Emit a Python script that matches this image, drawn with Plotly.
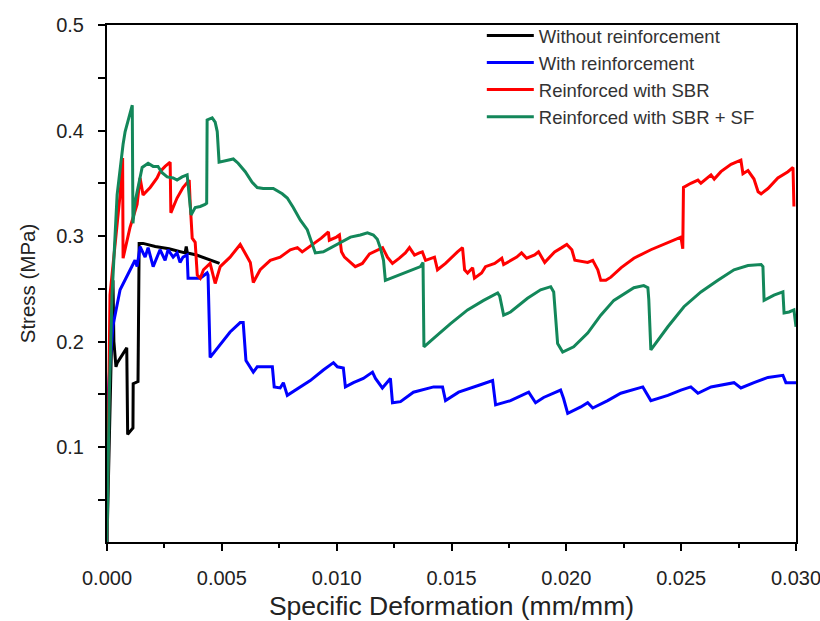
import plotly.graph_objects as go

# ---------------- data (strain in mm/mm, stress in MPa) ----------------
black_x = [0, 0.0001, 0.00022, 0.00026, 0.0003, 0.00039, 0.00045, 0.00086, 0.00087, 0.0009, 0.00113,
           0.00114, 0.00135, 0.0014, 0.00157, 0.0021, 0.0027, 0.0033, 0.0034, 0.00345, 0.0035, 0.0039,
           0.0044, 0.0049]
black_y = [0.01, 0.12, 0.22, 0.258, 0.2, 0.176, 0.18, 0.194, 0.113, 0.112, 0.118,
           0.16, 0.162, 0.293, 0.293, 0.29, 0.288, 0.285, 0.284, 0.29, 0.284, 0.282,
           0.278, 0.274]

blue_x = [0, 0.04, 0.13, 0.26, 0.57, 1.00, 1.22, 1.31, 1.44, 1.66, 1.79, 2.01, 2.31, 2.53, 2.66, 2.88,
          3.05, 3.18, 3.31, 3.49, 3.53, 4.06, 4.36, 4.40, 4.49, 5.36, 5.80, 5.93, 6.05, 6.37, 6.54,
          7.20, 7.28, 7.54, 7.68, 7.85, 8.42, 8.85, 9.42, 9.86, 10.03, 10.29, 10.38, 10.73, 11.16,
          11.56, 11.69, 11.99, 12.34, 12.43, 12.78, 13.34, 14.22, 14.61, 14.74, 15.31, 16.26, 16.79,
          16.92, 17.57, 18.36, 18.66, 19.01, 19.75, 19.88, 20.06, 20.63, 20.93, 21.15, 21.80, 22.37,
          23.33, 23.68, 24.42, 24.99, 25.42, 25.73, 26.30, 27.30, 27.60, 28.17, 28.78, 29.43, 29.56,
          30.00]
blue_y = [0.01, 0.144, 0.18, 0.215, 0.249, 0.268, 0.277, 0.271, 0.290, 0.280, 0.289, 0.271, 0.287,
          0.277, 0.287, 0.280, 0.284, 0.275, 0.280, 0.282, 0.260, 0.260, 0.265, 0.263, 0.185, 0.209,
          0.218, 0.218, 0.182, 0.171, 0.176, 0.176, 0.157, 0.156, 0.161, 0.149, 0.157, 0.163, 0.173,
          0.180, 0.176, 0.175, 0.157, 0.161, 0.165, 0.171, 0.165, 0.156, 0.165, 0.142, 0.143, 0.152,
          0.157, 0.157, 0.144, 0.152, 0.159, 0.163, 0.140, 0.144, 0.152, 0.142, 0.147, 0.154, 0.146,
          0.132, 0.138, 0.142, 0.137, 0.144, 0.151, 0.157, 0.144, 0.149, 0.154, 0.157, 0.151, 0.157,
          0.161, 0.156, 0.161, 0.166, 0.168, 0.161, 0.161]

red_x = [0, 0.13, 0.57, 0.68, 0.70, 1.00, 1.31, 1.44, 1.57, 1.88, 2.18, 2.31, 2.53, 2.75, 2.78, 3.05,
         3.31, 3.58, 3.62, 3.71, 3.84, 3.93, 4.06, 4.20, 4.49, 4.71, 4.93, 5.36, 5.80, 6.02, 6.24,
         6.37, 6.67, 7.11, 7.54, 7.98, 8.29, 8.50, 9.03, 9.33, 9.64, 9.68, 9.99, 10.12, 10.21, 10.34,
         10.81, 11.12, 11.43, 11.69, 12.00, 12.21, 12.43, 12.73, 12.99, 13.17, 13.39, 13.60, 13.73,
         13.87, 14.26, 14.39, 14.74, 15.26, 15.48, 15.57, 15.70, 15.92, 16.00, 16.31, 16.48, 16.88,
         17.10, 17.19, 17.27, 17.53, 17.84, 18.05, 18.27, 18.62, 18.79, 19.06, 19.49, 19.80, 20.02,
         20.24, 20.37, 20.93, 21.15, 21.37, 21.50, 21.72, 21.94, 22.39, 22.94, 23.68, 24.42, 24.99,
         25.07, 25.10, 25.42, 25.73, 25.86, 26.30, 26.44, 26.73, 27.17, 27.47, 27.60, 27.69, 27.91,
         28.17, 28.35, 28.48, 28.78, 29.21, 29.65, 29.87, 29.91]
red_y = [0.01, 0.244, 0.339, 0.374, 0.279, 0.308, 0.330, 0.355, 0.339, 0.346, 0.355, 0.361, 0.366,
         0.370, 0.322, 0.336, 0.346, 0.353, 0.332, 0.298, 0.294, 0.263, 0.260, 0.268, 0.274, 0.255,
         0.271, 0.280, 0.292, 0.284, 0.275, 0.256, 0.268, 0.277, 0.280, 0.287, 0.289, 0.285, 0.293,
         0.298, 0.304, 0.296, 0.299, 0.301, 0.285, 0.280, 0.271, 0.274, 0.283, 0.286, 0.289, 0.280,
         0.274, 0.279, 0.284, 0.289, 0.282, 0.284, 0.285, 0.277, 0.280, 0.268, 0.274, 0.285, 0.289,
         0.268, 0.265, 0.270, 0.260, 0.265, 0.271, 0.274, 0.277, 0.279, 0.273, 0.276, 0.280, 0.284,
         0.279, 0.282, 0.285, 0.275, 0.285, 0.289, 0.292, 0.287, 0.277, 0.275, 0.277, 0.268, 0.258,
         0.258, 0.261, 0.270, 0.279, 0.287, 0.294, 0.299, 0.288, 0.346, 0.350, 0.353, 0.350, 0.358,
         0.354, 0.361, 0.368, 0.371, 0.372, 0.359, 0.362, 0.354, 0.342, 0.340, 0.345, 0.355, 0.361,
         0.365, 0.328]

green_x = [0, 0.10, 0.22, 0.44, 0.70, 0.79, 1.10, 1.13, 1.22, 1.44, 1.53, 1.79, 2.01, 2.22, 2.40, 2.62,
           2.88, 3.05, 3.27, 3.49, 3.53, 3.66, 3.84, 4.06, 4.27, 4.34, 4.36, 4.58, 4.71, 4.80, 4.88,
           5.23, 5.50, 5.71, 6.02, 6.32, 6.54, 6.80, 7.24, 7.63, 7.85, 8.11, 8.29, 8.42, 8.72, 8.94,
           9.07, 9.42, 9.86, 10.16, 10.60, 11.03, 11.34, 11.60, 11.77, 11.90, 12.04, 12.12, 12.47,
           13.08, 13.65, 13.76, 13.80, 14.22, 14.96, 15.70, 16.40, 17.01, 17.10, 17.27, 17.57, 18.31,
           18.88, 19.32, 19.45, 19.62, 19.84, 20.32, 20.93, 21.50, 22.07, 22.94, 23.37, 23.55, 23.59,
           23.68, 24.42, 25.12, 25.86, 26.60, 27.30, 27.91, 28.48, 28.56, 28.61, 29.04, 29.43, 29.48,
           29.70, 29.91, 30.00]
green_y = [0.01, 0.15, 0.244, 0.339, 0.387, 0.399, 0.424, 0.312, 0.332, 0.358, 0.365, 0.369, 0.366,
           0.366, 0.360, 0.356, 0.355, 0.353, 0.356, 0.358, 0.349, 0.320, 0.327, 0.328, 0.330, 0.331,
           0.410, 0.412, 0.408, 0.399, 0.370, 0.372, 0.373, 0.369, 0.361, 0.351, 0.346, 0.345, 0.345,
           0.340, 0.336, 0.327, 0.320, 0.315, 0.306, 0.293, 0.284, 0.285, 0.290, 0.294, 0.299, 0.301,
           0.303, 0.301, 0.297, 0.289, 0.277, 0.258, 0.261, 0.266, 0.271, 0.275, 0.195, 0.203, 0.217,
           0.230, 0.239, 0.246, 0.243, 0.225, 0.228, 0.241, 0.249, 0.252, 0.247, 0.198, 0.190, 0.195,
           0.208, 0.225, 0.239, 0.251, 0.253, 0.251, 0.240, 0.192, 0.214, 0.233, 0.247, 0.258, 0.268,
           0.272, 0.273, 0.271, 0.239, 0.244, 0.247, 0.227, 0.228, 0.230, 0.214]

series_names = ["Without reinforcement", "With reinforcement",
                "Reinforced with SBR", "Reinforced with SBR + SF"]

x_ticks = [0.0, 0.005, 0.010, 0.015, 0.020, 0.025, 0.030]
x_tick_text = ["0.000", "0.005", "0.010", "0.015", "0.020", "0.025", "0.030"]
y_ticks = [0.1, 0.2, 0.3, 0.4, 0.5]
y_tick_text = ["0.1", "0.2", "0.3", "0.4", "0.5"]

# strain lists for the last three series were read in units of 1e-3
blue_x = [v / 1000 for v in blue_x]
red_x = [v / 1000 for v in red_x]
green_x = [v / 1000 for v in green_x]

colors = ["#000000", "#0000ff", "#ff0000", "#13875a"]
xs = [black_x, blue_x, red_x, green_x]
ys = [black_y, blue_y, red_y, green_y]

FONT = "Liberation Sans, Arial, sans-serif"

fig = go.Figure()
for name, x, y, c in zip(series_names, xs, ys, colors):
    fig.add_trace(go.Scatter(x=x, y=y, mode="lines", name=name,
                             line=dict(color=c, width=3)))

fig.update_layout(
    width=820, height=621,
    margin=dict(l=107, r=24, t=25, b=79, autoexpand=False),
    paper_bgcolor="white", plot_bgcolor="white",
    font=dict(family=FONT, color="#222222"),
    showlegend=True,
    legend=dict(x=0.544, y=1.0155, xanchor="left", yanchor="top",
                bgcolor="rgba(0,0,0,0)", font=dict(size=18.5, color="#333333"),
                itemwidth=47, tracegroupgap=0),
)
fig.update_xaxes(
    range=[0, 0.030], tickvals=x_ticks, ticktext=x_tick_text,
    showgrid=False, zeroline=False,
    showline=True, linecolor="black", linewidth=2, mirror=True,
    ticks="outside", ticklen=7, tickwidth=2, tickcolor="black",
    minor=dict(ticks="outside", dtick=0.0025, tick0=0, ticklen=4, tickwidth=2, tickcolor="black"),
    tickfont=dict(size=20, family=FONT, color="#222222"),
    ticklabelstandoff=10, ticklabeloverflow="allow",
    title=dict(text="Specific Deformation (mm/mm)", font=dict(size=26.5, family=FONT, color="#222222"),
               standoff=8),
)
fig.update_yaxes(
    range=[0.01, 0.5], tickvals=y_ticks, ticktext=y_tick_text,
    showgrid=False, zeroline=False,
    showline=True, linecolor="black", linewidth=2, mirror=True,
    ticks="outside", ticklen=7, tickwidth=2, tickcolor="black",
    minor=dict(ticks="outside", dtick=0.05, tick0=0, ticklen=7, tickwidth=2, tickcolor="black"),
    tickfont=dict(size=20, family=FONT, color="#222222"),
    ticklabelstandoff=10, ticklabeloverflow="allow",
    title=dict(text="Stress (MPa)", font=dict(size=20.5, family=FONT, color="#222222"), standoff=15),
)

fig.write_html(
    "out.html",
    config={"displayModeBar": False},
    post_script="document.body.style.margin='0';document.documentElement.style.overflow='hidden';",
)
